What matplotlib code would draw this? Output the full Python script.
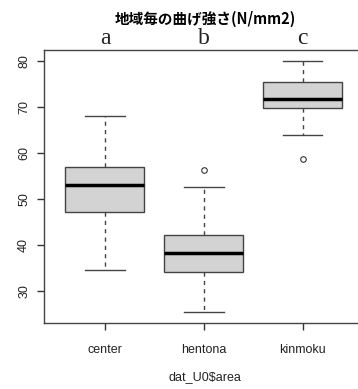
import matplotlib
matplotlib.use("Agg")
import matplotlib.pyplot as plt

categories = ["center", "hentona", "kinmoku"]
letters = ["a", "b", "c"]
whislo = [34.5, 25.4, 64.0]
q1 = [47.2, 34.1, 69.7]
med = [53.0, 38.2, 71.8]
q3 = [56.9, 42.1, 75.4]
whishi = [68.0, 52.5, 80.1]
fliers = [[], [56.3], [58.7]]
yticks = [30, 40, 50, 60, 70, 80]

fig = plt.figure(figsize=(3.58, 3.89), dpi=100)
ax = fig.add_axes([44/358, 66/389, 320/358, 273/389])

stats = []
for i, c in enumerate(categories):
    stats.append(dict(label=c, whislo=whislo[i], q1=q1[i], med=med[i],
                      q3=q3[i], whishi=whishi[i], fliers=fliers[i]))

edge = "#444444"
ax.bxp(stats, positions=[1, 2, 3], widths=0.8, patch_artist=True,
       boxprops=dict(facecolor="#d3d3d3", edgecolor=edge, linewidth=1.0),
       medianprops=dict(color="black", linewidth=2.5),
       whiskerprops=dict(color=edge, linestyle=(0, (3, 3)), linewidth=1.0),
       capprops=dict(color=edge, linewidth=1.0),
       flierprops=dict(marker="o", markersize=4, markerfacecolor="none",
                       markeredgecolor="#333333", markeredgewidth=0.8),
       capwidths=0.4)

ax.set_xlim(0.384, 3.62)
ax.set_ylim(23.0, 82.4)
ax.set_yticks(yticks)
ax.set_yticklabels([str(v) for v in yticks], rotation=90, va="center",
                   family="Liberation Sans", fontsize=9, color="#222222")
ax.set_xticks([1, 2, 3])
ax.set_xticklabels(categories, family="Liberation Sans", fontsize=9, color="#222222")
ax.tick_params(axis="both", length=5, width=1, color="#333333")
ax.tick_params(axis="x", pad=10)
ax.tick_params(axis="y", pad=5)
for s in ax.spines.values():
    s.set_color("#444444")
    s.set_linewidth(1.0)
ax.spines["right"].set_visible(False)

for i, l in enumerate(letters):
    ax.text(i + 1, 82.6, l, ha="center", va="bottom",
            family="Liberation Serif", fontsize=17, color="#222222")

fig.text(205/358, 1 - 19/389, "地域毎の曲げ強さ(N/mm2)", ha="center", va="center",
         family=["Noto Sans CJK JP", "DejaVu Sans"], fontsize=10.5,
         fontweight="bold", color="black")
fig.text(205/358, 1 - 377/389, "dat_U0$area", ha="center", va="center",
         family="Liberation Sans", fontsize=9, color="#222222")

fig.savefig("out.png", dpi=100)
